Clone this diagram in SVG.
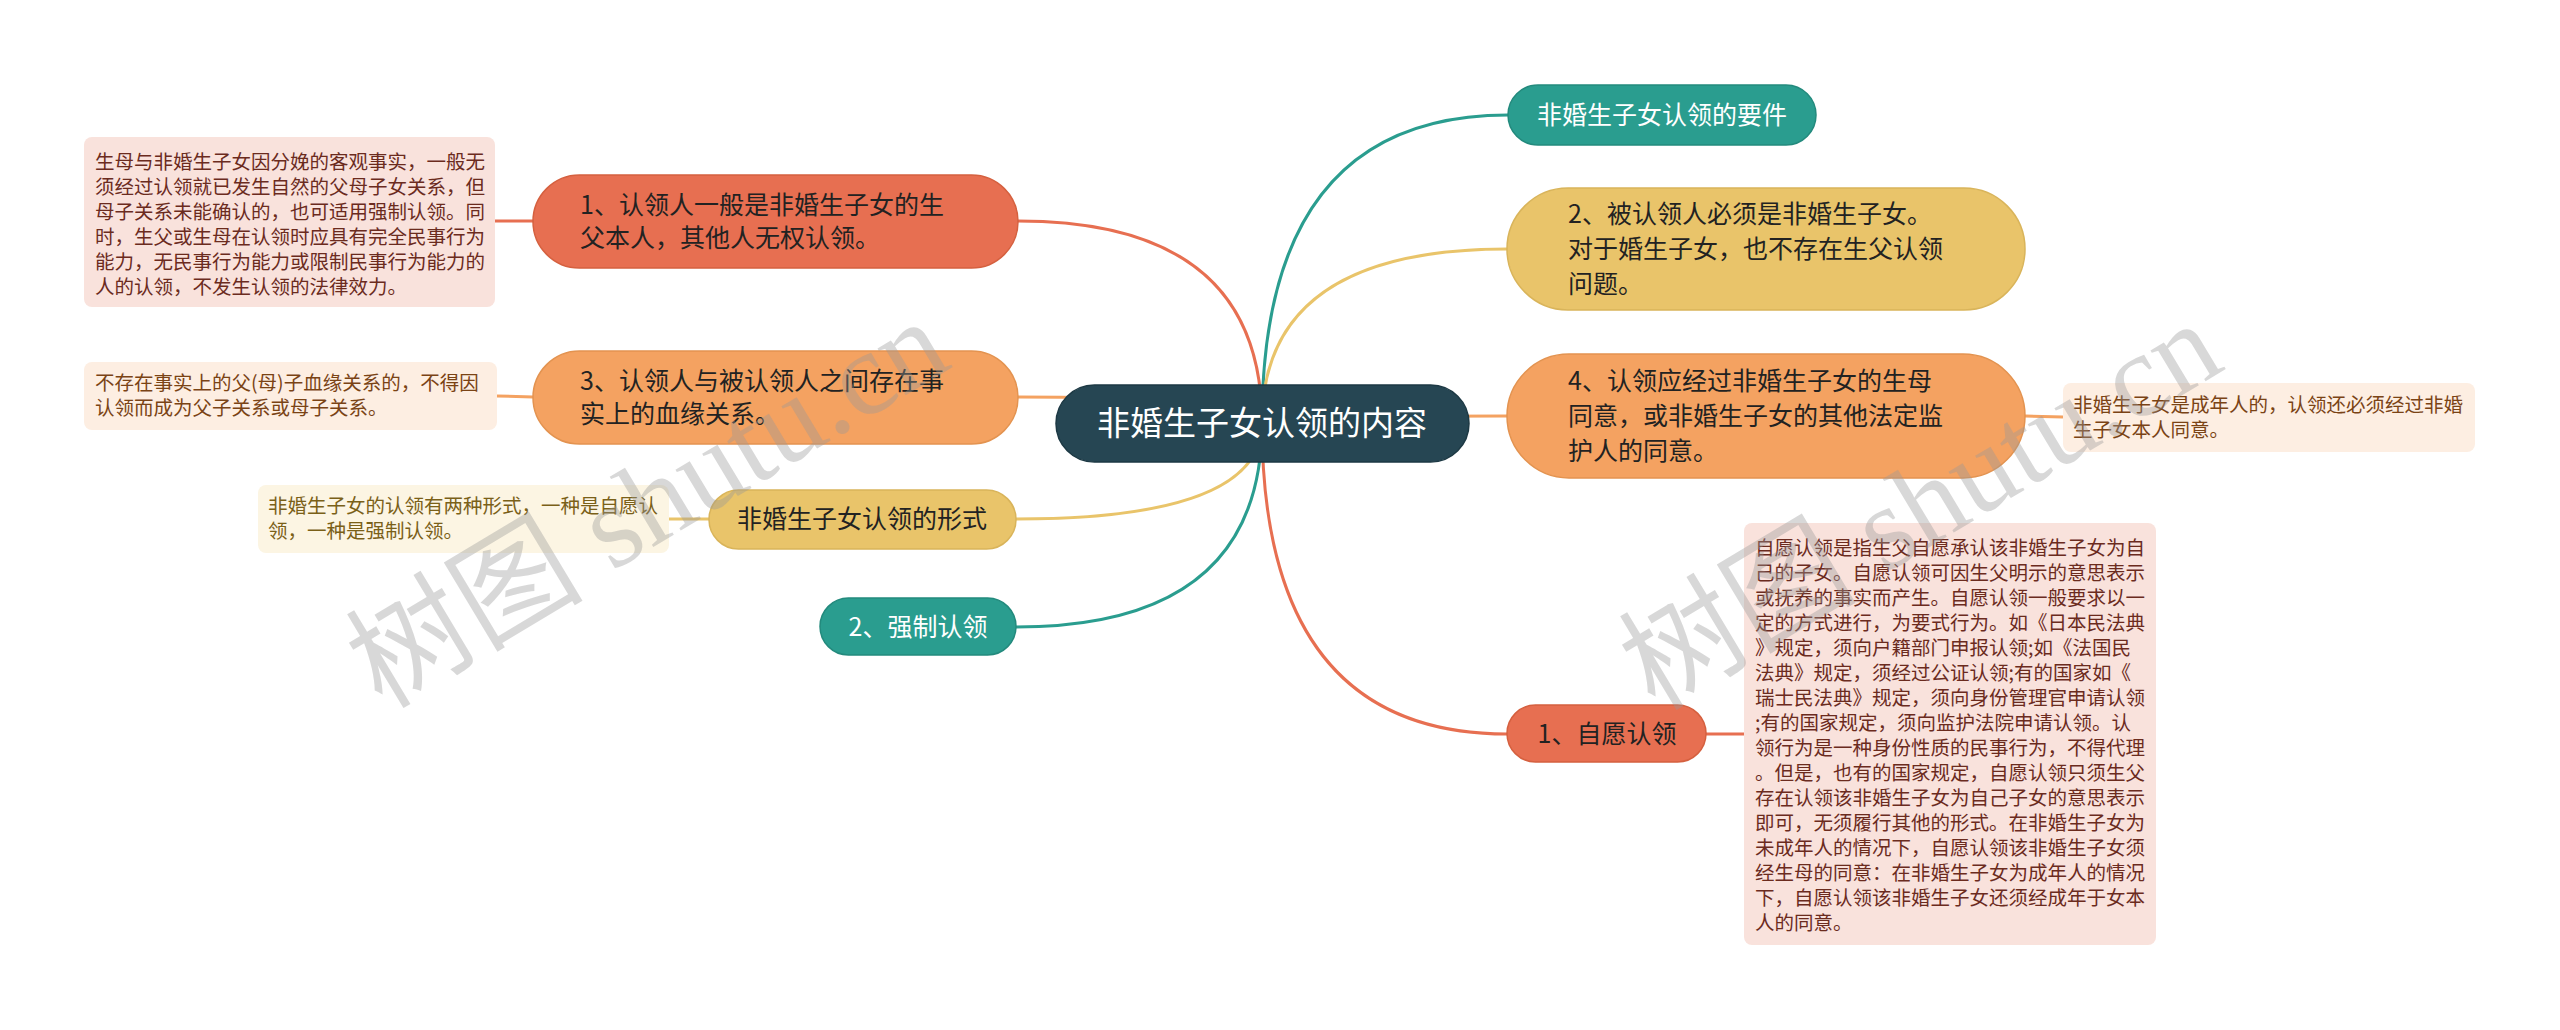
<svg xmlns="http://www.w3.org/2000/svg" width="2560" height="1030" viewBox="0 0 2560 1030">
<style>
text{font-family:"Noto Sans CJK SC","Noto Sans",sans-serif;}
.n{font-size:25px;fill:#222;}
.w{fill:#fff;}
.c{text-anchor:middle;}
.note{font-size:19.5px;}
.red{fill:#E76F51;stroke:#D5603F;stroke-width:1.5;}
.org{fill:#F4A261;stroke:#E39350;stroke-width:1.5;}
.yel{fill:#E9C46A;stroke:#D9B45A;stroke-width:1.5;}
.tea{fill:#2A9D8F;stroke:#238A7D;stroke-width:1.5;}
.cl{fill:none;stroke-width:3;}
.wm{font-family:"Liberation Serif","Noto Sans CJK SC",serif;font-size:119px;fill:#999;fill-opacity:0.38;}
</style>
<rect width="2560" height="1030" fill="#fff"/>
<g id="connectors">
<path class="cl" stroke="#E76F51" d="M1262,423 Q1262,221 1018,221"/>
<path class="cl" stroke="#F4A261" d="M1262,423 Q1262,397 1018,397"/>
<path class="cl" stroke="#E9C46A" d="M1262,423 Q1262,519 1016,519"/>
<path class="cl" stroke="#2A9D8F" d="M1262,423 Q1262,627 1016,627"/>
<path class="cl" stroke="#2A9D8F" d="M1262,423 Q1262,115 1508,115"/>
<path class="cl" stroke="#E9C46A" d="M1262,423 Q1262,249 1507,249"/>
<path class="cl" stroke="#F4A261" d="M1262,423 Q1262,416 1507,416"/>
<path class="cl" stroke="#E76F51" d="M1262,423 Q1262,734 1507,734"/>
<path class="cl" stroke="#E76F51" d="M533,221 L495,221"/>
<path class="cl" stroke="#F4A261" d="M533,397 L497,396"/>
<path class="cl" stroke="#E9C46A" d="M709,519 L669,519"/>
<path class="cl" stroke="#F4A261" d="M2025,416 L2063,417"/>
<path class="cl" stroke="#E76F51" d="M1706,734 L1744,734"/>
</g>
<g id="root">
<rect x="1056" y="385" width="413" height="77" rx="38.5" fill="#264653" stroke="#1d3944" stroke-width="1.5"/>
<text class="w c" x="1262" y="435" font-size="33">非婚生子女认领的内容</text>
</g>
<g id="node-l1">
<rect class="red" x="533" y="175" width="485" height="93" rx="46.5"/>
<text class="n" x="580" y="214">1、认领人一般是非婚生子女的生</text>
<text class="n" x="580" y="247">父本人，其他人无权认领。</text>
</g>
<g id="note-l1">
<rect x="84" y="137" width="411" height="170" rx="8" fill="#F9E2DC"/>
<g class="note" fill="#6B2B1E">
<text x="95" y="169">生母与非婚生子女因分娩的客观事实，一般无</text>
<text x="95" y="194">须经过认领就已发生自然的父母子女关系，但</text>
<text x="95" y="219">母子关系未能确认的，也可适用强制认领。同</text>
<text x="95" y="244">时，生父或生母在认领时应具有完全民事行为</text>
<text x="95" y="269">能力，无民事行为能力或限制民事行为能力的</text>
<text x="95" y="294">人的认领，不发生认领的法律效力。</text>
</g>
</g>
<g id="node-l3">
<rect class="org" x="533" y="351" width="485" height="93" rx="46.5"/>
<text class="n" x="580" y="390">3、认领人与被认领人之间存在事</text>
<text class="n" x="580" y="423">实上的血缘关系。</text>
</g>
<g id="note-l3">
<rect x="84" y="362" width="413" height="68" rx="8" fill="#FDEEE2"/>
<g class="note" fill="#7A4315">
<text x="95" y="390">不存在事实上的父(母)子血缘关系的，不得因</text>
<text x="95" y="415">认领而成为父子关系或母子关系。</text>
</g>
</g>
<g id="node-form">
<rect class="yel" x="709" y="490" width="307" height="59" rx="29.5"/>
<text class="n c" x="862" y="528">非婚生子女认领的形式</text>
</g>
<g id="note-form">
<rect x="258" y="485" width="411" height="68" rx="8" fill="#FCF5E3"/>
<g class="note" fill="#7A6018">
<text x="268" y="513">非婚生子女的认领有两种形式，一种是自愿认</text>
<text x="268" y="538">领，一种是强制认领。</text>
</g>
</g>
<g id="node-force">
<rect class="tea" x="820" y="598" width="196" height="57" rx="28.5"/>
<text class="n w c" x="918" y="636">2、强制认领</text>
</g>
<g id="node-req">
<rect class="tea" x="1508" y="85" width="308" height="60" rx="30"/>
<text class="n w c" x="1662" y="124">非婚生子女认领的要件</text>
</g>
<g id="node-r2">
<rect class="yel" x="1507" y="188" width="518" height="122" rx="61"/>
<text class="n" x="1568" y="223">2、被认领人必须是非婚生子女。</text>
<text class="n" x="1568" y="258">对于婚生子女，也不存在生父认领</text>
<text class="n" x="1568" y="293">问题。</text>
</g>
<g id="node-r4">
<rect class="org" x="1507" y="354" width="518" height="124" rx="62"/>
<text class="n" x="1568" y="390">4、认领应经过非婚生子女的生母</text>
<text class="n" x="1568" y="425">同意，或非婚生子女的其他法定监</text>
<text class="n" x="1568" y="460">护人的同意。</text>
</g>
<g id="note-r4">
<rect x="2063" y="383" width="412" height="69" rx="8" fill="#FDEEE2"/>
<g class="note" fill="#7A4315">
<text x="2073" y="412">非婚生子女是成年人的，认领还必须经过非婚</text>
<text x="2073" y="437">生子女本人同意。</text>
</g>
</g>
<g id="node-vol">
<rect class="red" x="1507" y="705" width="199" height="57" rx="28.5"/>
<text class="n c" x="1607" y="743">1、自愿认领</text>
</g>
<g id="note-vol">
<rect x="1744" y="523" width="412" height="422" rx="8" fill="#F9E2DC"/>
<g class="note" fill="#6B2B1E">
<text x="1755" y="555">自愿认领是指生父自愿承认该非婚生子女为自</text>
<text x="1755" y="580">己的子女。自愿认领可因生父明示的意思表示</text>
<text x="1755" y="605">或抚养的事实而产生。自愿认领一般要求以一</text>
<text x="1755" y="630">定的方式进行，为要式行为。如《日本民法典</text>
<text x="1755" y="655">》规定，须向户籍部门申报认领;如《法国民</text>
<text x="1755" y="680">法典》规定，须经过公证认领;有的国家如《</text>
<text x="1755" y="705">瑞士民法典》规定，须向身份管理官申请认领</text>
<text x="1755" y="730">;有的国家规定，须向监护法院申请认领。认</text>
<text x="1755" y="755">领行为是一种身份性质的民事行为，不得代理</text>
<text x="1755" y="780">。但是，也有的国家规定，自愿认领只须生父</text>
<text x="1755" y="805">存在认领该非婚生子女为自己子女的意思表示</text>
<text x="1755" y="830">即可，无须履行其他的形式。在非婚生子女为</text>
<text x="1755" y="855">未成年人的情况下，自愿认领该非婚生子女须</text>
<text x="1755" y="880">经生母的同意：在非婚生子女为成年人的情况</text>
<text x="1755" y="905">下，自愿认领该非婚生子女还须经成年于女本</text>
<text x="1755" y="930">人的同意。</text>
</g>
</g>
<g id="watermarks">
<text class="wm" transform="translate(382,710) rotate(-31)">树图 shutu.cn</text>
<text class="wm" transform="translate(1655,712) rotate(-31)">树图 shutu.cn</text>
</g>
</svg>
